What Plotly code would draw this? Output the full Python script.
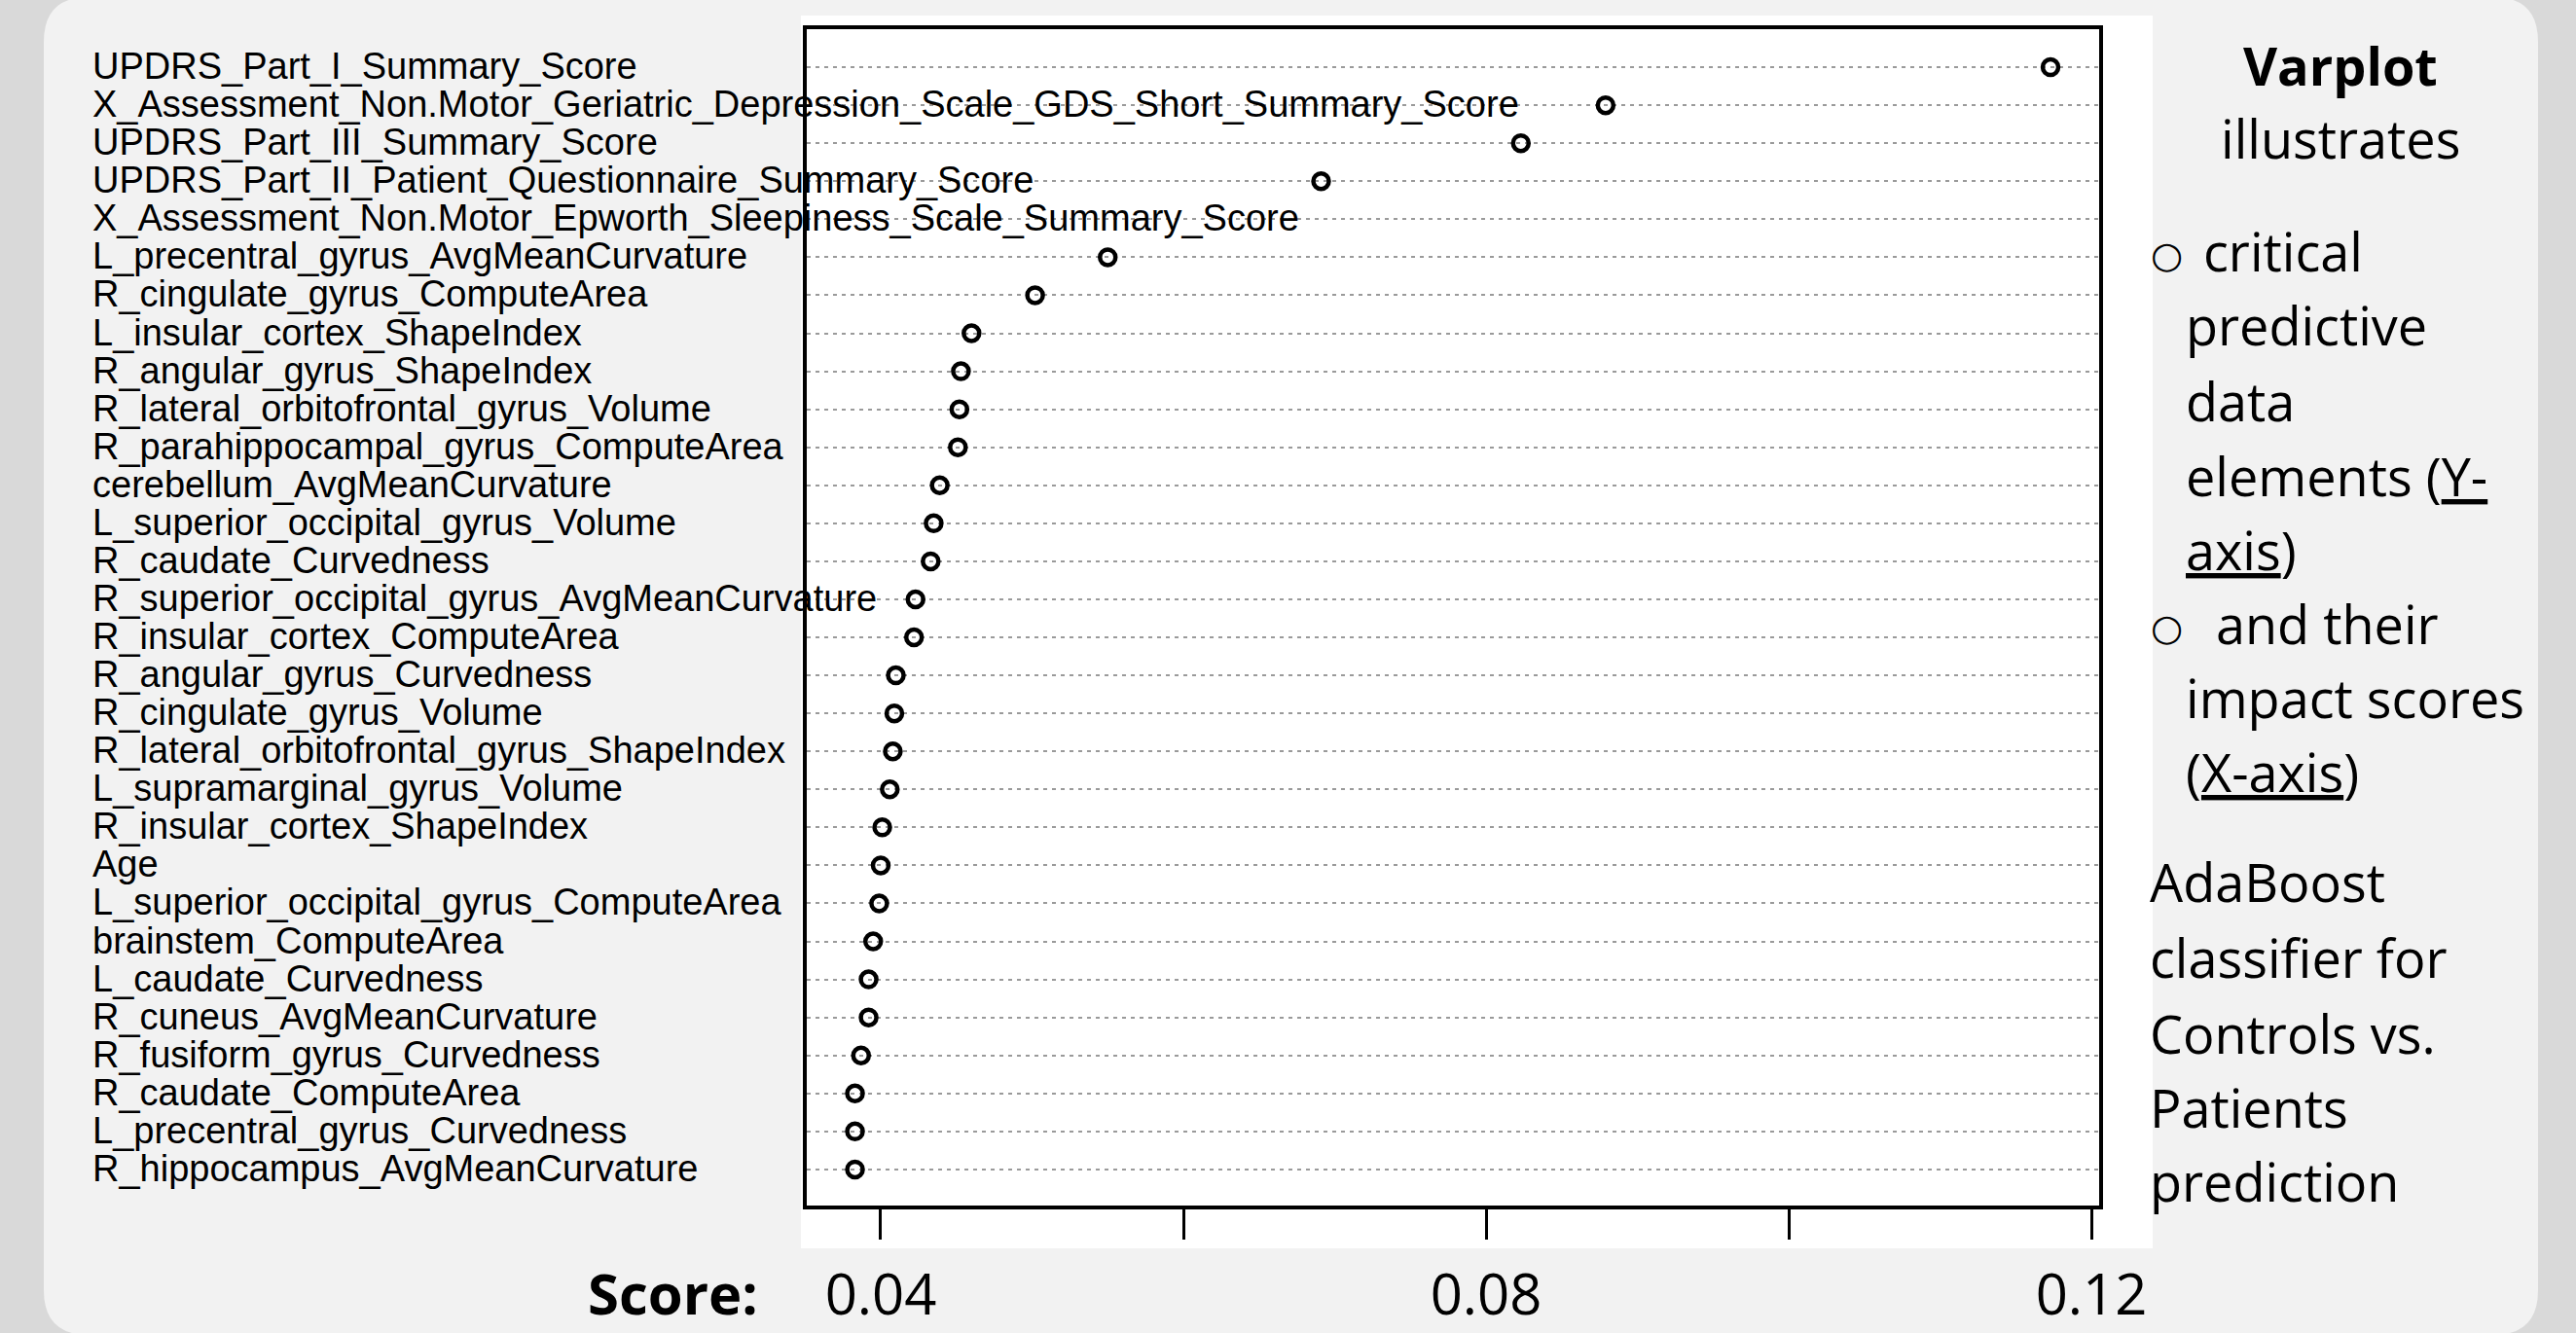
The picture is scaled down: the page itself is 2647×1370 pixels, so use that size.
import plotly.graph_objects as go

# ---------------- data ----------------
features = [
    "UPDRS_Part_I_Summary_Score",
    "X_Assessment_Non.Motor_Geriatric_Depression_Scale_GDS_Short_Summary_Score",
    "UPDRS_Part_III_Summary_Score",
    "UPDRS_Part_II_Patient_Questionnaire_Summary_Score",
    "X_Assessment_Non.Motor_Epworth_Sleepiness_Scale_Summary_Score",
    "L_precentral_gyrus_AvgMeanCurvature",
    "R_cingulate_gyrus_ComputeArea",
    "L_insular_cortex_ShapeIndex",
    "R_angular_gyrus_ShapeIndex",
    "R_lateral_orbitofrontal_gyrus_Volume",
    "R_parahippocampal_gyrus_ComputeArea",
    "cerebellum_AvgMeanCurvature",
    "L_superior_occipital_gyrus_Volume",
    "R_caudate_Curvedness",
    "R_superior_occipital_gyrus_AvgMeanCurvature",
    "R_insular_cortex_ComputeArea",
    "R_angular_gyrus_Curvedness",
    "R_cingulate_gyrus_Volume",
    "R_lateral_orbitofrontal_gyrus_ShapeIndex",
    "L_supramarginal_gyrus_Volume",
    "R_insular_cortex_ShapeIndex",
    "Age",
    "L_superior_occipital_gyrus_ComputeArea",
    "brainstem_ComputeArea",
    "L_caudate_Curvedness",
    "R_cuneus_AvgMeanCurvature",
    "R_fusiform_gyrus_Curvedness",
    "R_caudate_ComputeArea",
    "L_precentral_gyrus_Curvedness",
    "R_hippocampus_AvgMeanCurvature",
]

# impact scores (the 5th point is not visible in the reference: hidden behind its label)
scores = [
    0.1173, 0.0879, 0.0823, 0.0691, None,
    0.0550, 0.0502, 0.0460, 0.0453, 0.0452,
    0.0451, 0.0439, 0.0435, 0.0433, 0.0423,
    0.0422, 0.0410, 0.0409, 0.0408, 0.0406,
    0.0401, 0.0400, 0.0399, 0.0395, 0.0392,
    0.0392, 0.0387, 0.0383, 0.0383, 0.0383,
]

tick_values = [0.04, 0.06, 0.08, 0.10, 0.12]
tick_labels = ["0.04", "", "0.08", "", "0.12"]
axis_caption = "Score:"

side_lines = [
    "<b>Varplot</b>",
    "illustrates",
    "critical",
    "predictive",
    "data",
    "elements (<span style='text-decoration:underline'>Y-</span>",
    "<span style='text-decoration:underline'>axis</span>)",
    "and their",
    "impact scores",
    "(<span style='text-decoration:underline'>X-axis</span>)",
    "AdaBoost",
    "classifier for",
    "Controls vs.",
    "Patients",
    "prediction",
]
bullet = "○"

# ---------------- layout geometry (pixels) ----------------
W, H = 2647, 1370
L, R, T, B = 829, 2157, 30, 1239


def px(x):
    return (x - L) / (R - L)


def py(y):
    return (B - y) / (B - T)


rows = list(range(1, len(features) + 1))

fig = go.Figure()
fig.add_trace(go.Scatter(
    x=scores, y=rows, mode="markers",
    marker=dict(symbol="circle-open", size=16, color="black",
                line=dict(width=4.5, color="black")),
    showlegend=False, hoverinfo="x+y",
))

# panel background (rounded rectangle) and white plot backdrop
x0, x1, y0, y1, r = 45, 2608, -3, 1372, 46
path = (
    f"M {px(x0 + r)} {py(y0)} L {px(x1 - r)} {py(y0)} "
    f"Q {px(x1)} {py(y0)} {px(x1)} {py(y0 + r)} "
    f"L {px(x1)} {py(y1 - r)} Q {px(x1)} {py(y1)} {px(x1 - r)} {py(y1)} "
    f"L {px(x0 + r)} {py(y1)} Q {px(x0)} {py(y1)} {px(x0)} {py(y1 - r)} "
    f"L {px(x0)} {py(y0 + r)} Q {px(x0)} {py(y0)} {px(x0 + r)} {py(y0)} Z"
)
shapes = [
    dict(type="path", path=path, xref="paper", yref="paper",
         fillcolor="#f2f2f2", line=dict(width=0), layer="below"),
    dict(type="rect", xref="paper", yref="paper",
         x0=px(823), x1=px(2212), y0=py(1283), y1=py(16),
         fillcolor="white", line=dict(width=0), layer="below"),
]

annotations = []
label_font = dict(family="Liberation Sans, Arial, sans-serif", size=38, color="black")
for name, row in zip(features, rows):
    annotations.append(dict(
        text=name, x=px(93), xref="paper", xanchor="left",
        y=row, yref="y", yanchor="middle", yshift=1,
        showarrow=False, font=label_font,
    ))

side_font = dict(family="Open Sans, Noto Sans, sans-serif", size=54, color="black")
side_pos = [
    (2405, 67, "center"), (2405, 142, "center"),
    (2262, 258, "left"), (2244, 334, "left"), (2244, 412, "left"),
    (2244, 489, "left"), (2244, 565, "left"),
    (2275, 641, "left"), (2244, 717, "left"), (2244, 793, "left"),
    (2207, 906, "left"), (2207, 984, "left"), (2207, 1062, "left"),
    (2207, 1138, "left"), (2207, 1214, "left"),
]
for txt, (xp, yp, anc) in zip(side_lines, side_pos):
    annotations.append(dict(
        text=txt, x=px(xp), xref="paper", xanchor=anc,
        y=py(yp), yref="paper", yanchor="middle",
        showarrow=False, font=side_font,
    ))
for yp in (258, 641):
    annotations.append(dict(
        text=bullet, x=px(2208), xref="paper", xanchor="left",
        y=py(yp + 4), yref="paper", yanchor="middle",
        showarrow=False,
        font=dict(family="DejaVu Sans, sans-serif", size=38, color="black"),
    ))

annotations.append(dict(
    text=f"<b>{axis_caption}</b>", x=px(691), xref="paper", xanchor="center",
    y=py(1328), yref="paper", yanchor="middle", showarrow=False,
    font=dict(family="Open Sans, Noto Sans, sans-serif", size=58, color="black"),
))

fig.update_layout(
    template="none",
    width=W, height=H,
    margin=dict(l=L, r=W - R, t=T, b=H - B, pad=0, autoexpand=False),
    paper_bgcolor="#d9d9d9",
    plot_bgcolor="white",
    shapes=shapes,
    annotations=annotations,
    showlegend=False,
    xaxis=dict(
        automargin=False,
        range=[0.035113, 0.120514],
        tickvals=tick_values, ticktext=tick_labels,
        ticks="outside", ticklen=31, tickwidth=3, tickcolor="black",
        ticklabelstandoff=8,
        tickfont=dict(family="Open Sans, Noto Sans, sans-serif", size=58, color="black"),
        showgrid=False, zeroline=False,
        showline=True, linewidth=3.5, linecolor="black", mirror=True,
    ),
    yaxis=dict(
        automargin=False,
        range=[30.95, 0.0],
        tickvals=rows, showticklabels=False, ticks="",
        showgrid=True, gridcolor="#9a9a9a", gridwidth=2, griddash="4px,5px",
        zeroline=False,
        showline=True, linewidth=3.5, linecolor="black", mirror=True,
    ),
)

fig.write_html("out.html", config={"displayModeBar": False},
               post_script="document.body.style.margin='0px';")
